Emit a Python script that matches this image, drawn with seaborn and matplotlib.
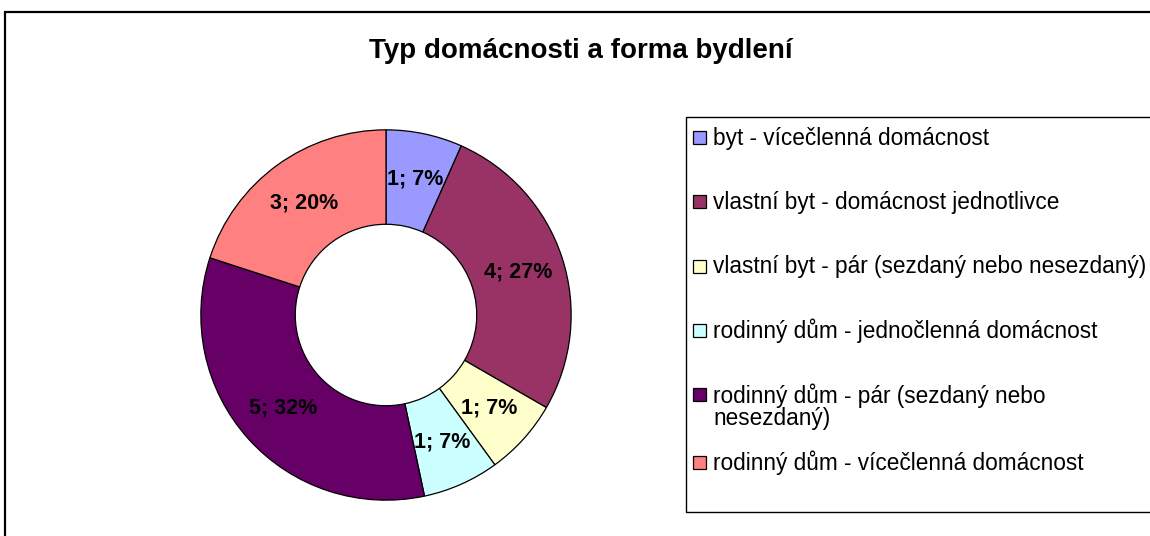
import matplotlib.pyplot as plt
import seaborn as sns
import numpy as np
from matplotlib.patches import Rectangle

# Data
categories = [
    "byt - vícečlenná domácnost",
    "vlastní byt - domácnost jednotlivce",
    "vlastní byt - pár (sezdaný nebo nesezdaný)",
    "rodinný dům - jednočlenná domácnost",
    "rodinný dům - pár (sezdaný nebo\nnesezdaný)",
    "rodinný dům - vícečlenná domácnost",
]
counts = [1, 4, 1, 1, 5, 3]
percents = [7, 27, 7, 7, 32, 20]
colors = ["#9999FF", "#993366", "#FFFFCC", "#CCFFFF", "#660066", "#FF8080"]

W, H = 1150, 536


def fx(px):
    return px / W


def fy(py):
    return 1 - py / H


sns.set_style("white")
plt.rcParams['font.family'] = ['Liberation Sans', 'DejaVu Sans']
plt.rcParams['text.color'] = 'black'

fig = plt.figure(figsize=(W / 100, H / 100), dpi=100)
fig.patch.set_facecolor("white")

# outer chart border (only top and left edges are visible)
fig.patches.append(Rectangle((fx(5), fy(600)), 1.2, fy(12) - fy(600),
                             transform=fig.transFigure, fill=False,
                             edgecolor="black", linewidth=1.6))

fig.text(fx(581), fy(51), "Typ domácnosti a forma bydlení",
         ha="center", va="center", fontsize=20, fontweight="bold")

# donut
cx, cy, r = 386, 315, 187
ax = fig.add_axes([fx(cx - r), fy(cy + r), (2 * r) / W, (2 * r) / H])
wedges, _ = ax.pie(counts, colors=colors, startangle=90, counterclock=False,
                   radius=1, wedgeprops=dict(width=0.51, edgecolor="black", linewidth=0.9))
ax.set_xlim(-1.01, 1.01)
ax.set_ylim(-1.01, 1.01)
ax.set_aspect("equal")
ax.axis("off")

for w, c, p in zip(wedges, counts, percents):
    ang = np.deg2rad((w.theta1 + w.theta2) / 2)
    ax.text(0.75 * np.cos(ang), 0.75 * np.sin(ang), f"{c}; {p}%",
            ha="center", va="center", fontsize=15.5, fontweight="bold")

# legend box (runs past the right edge)
fig.patches.append(Rectangle((fx(686), fy(512)), 1.0, fy(117) - fy(512),
                             transform=fig.transFigure, fill=False,
                             edgecolor="black", linewidth=1.0))

entry_y = [137, 201, 266, 330, 394, 462]
for lab, col, y in zip(categories, colors, entry_y):
    fig.patches.append(Rectangle((fx(693), fy(y + 6.5)), 13 / W, 13 / H,
                                 transform=fig.transFigure, facecolor=col,
                                 edgecolor="black", linewidth=0.9))
    n = lab.count("\n")
    fig.text(fx(713), fy(y + 12 * n + 1), lab, ha="left", va="center",
             fontsize=16.3, linespacing=0.95)

plt.savefig("out.png", dpi=100)
plt.close()
